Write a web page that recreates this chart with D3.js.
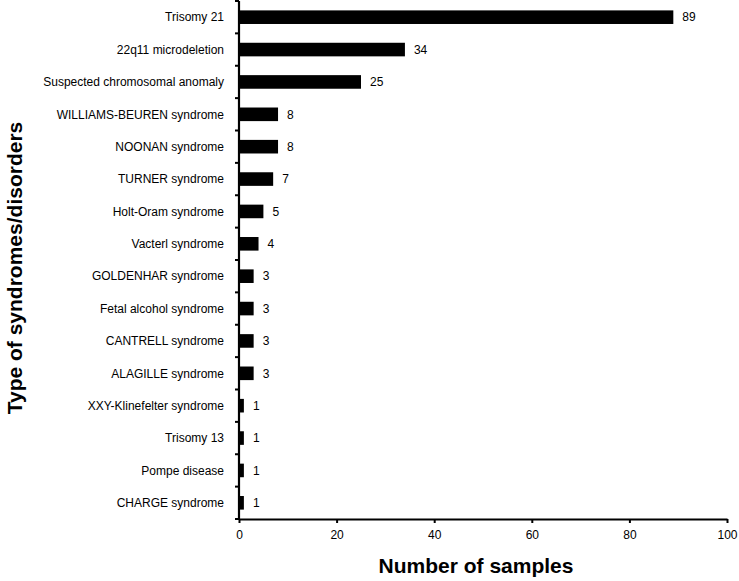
<!DOCTYPE html>
<html>
<head>
<meta charset="utf-8">
<script src="https://cdn.jsdelivr.net/npm/d3@7"></script>
<style>
  body { margin: 0; background: #fff; }
  text { font-family: "Liberation Sans", Arial, sans-serif; }
</style>
</head>
<body>
<div id="chart"></div>
<script>
const width = 739
const height = 581
const margin = { top: 1, right: 12, bottom: 62, left: 239 }

// datos
const syndromes = [
  'Trisomy 21', '22q11 microdeletion', 'Suspected chromosomal anomaly',
  'WILLIAMS-BEUREN syndrome', 'NOONAN syndrome', 'TURNER syndrome',
  'Holt-Oram syndrome', 'Vacterl syndrome', 'GOLDENHAR syndrome',
  'Fetal alcohol syndrome', 'CANTRELL syndrome', 'ALAGILLE syndrome',
  'XXY-Klinefelter syndrome', 'Trisomy 13', 'Pompe disease', 'CHARGE syndrome'
]
const samples = [89, 34, 25, 8, 8, 7, 5, 4, 3, 3, 3, 3, 1, 1, 1, 1]
const xTicks = [0, 20, 40, 60, 80, 100]

const data = syndromes.map((s, i) => ({ name: s, value: samples[i] }))

const innerW = 727 - margin.left
const innerH = 519 - margin.top

const svg = d3.select('#chart').append('svg').attr('width', width).attr('height', height)
const g = svg.append('g').attr('transform', `translate(${margin.left}, ${margin.top})`)

const x = d3.scaleLinear().domain([0, 100]).range([0, innerW])
const y = d3.scaleBand().domain(syndromes).range([0, innerH]).paddingInner(0.58).paddingOuter(0.29)

// barras
g.selectAll('rect').data(data).enter().append('rect')
  .attr('x', 0)
  .attr('y', d => y(d.name))
  .attr('width', d => x(d.value))
  .attr('height', y.bandwidth())
  .attr('fill', '#000')

// valores
g.selectAll('.val').data(data).enter().append('text')
  .attr('class', 'val')
  .attr('x', d => x(d.value) + 9)
  .attr('y', d => y(d.name) + y.bandwidth() / 2)
  .attr('dy', '0.35em')
  .attr('font-size', 12)
  .text(d => d.value)

// eje x
const xAxis = g.append('g').attr('transform', `translate(0, ${innerH})`)
  .call(d3.axisBottom(x).tickValues(xTicks).tickSize(4).tickSizeOuter(0))
xAxis.select('.domain').attr('stroke-width', 2.2)
xAxis.selectAll('.tick line').attr('stroke-width', 2)
xAxis.selectAll('.tick text').attr('font-size', 12).attr('font-family', '"Liberation Sans", Arial, sans-serif').attr('dy', '1.1em')

// eje y: ticks en los limites de categoria
const yAxis = g.append('g')
yAxis.append('line').attr('x1', 0).attr('x2', 0).attr('y1', 0).attr('y2', innerH)
  .attr('stroke', '#000').attr('stroke-width', 2.2)
const bounds = d3.range(syndromes.length + 1).map(i => i * y.step())
yAxis.selectAll('.yt').data(bounds).enter().append('line')
  .attr('x1', -4).attr('x2', 0).attr('y1', d => d).attr('y2', d => d)
  .attr('stroke', '#000').attr('stroke-width', 2)
yAxis.selectAll('.lab').data(syndromes).enter().append('text')
  .attr('x', -15)
  .attr('y', d => y(d) + y.bandwidth() / 2)
  .attr('dy', '0.35em')
  .attr('text-anchor', 'end')
  .attr('font-size', 12)
  .text(d => d)

// titulos
svg.append('text')
  .attr('x', 476).attr('y', 573)
  .attr('text-anchor', 'middle')
  .attr('font-size', 21).attr('font-weight', 'bold')
  .text('Number of samples')

svg.append('text')
  .attr('transform', 'translate(22, 268) rotate(-90)')
  .attr('text-anchor', 'middle')
  .attr('font-size', 21).attr('font-weight', 'bold')
  .text('Type of syndromes/disorders')
</script>
</body>
</html>
